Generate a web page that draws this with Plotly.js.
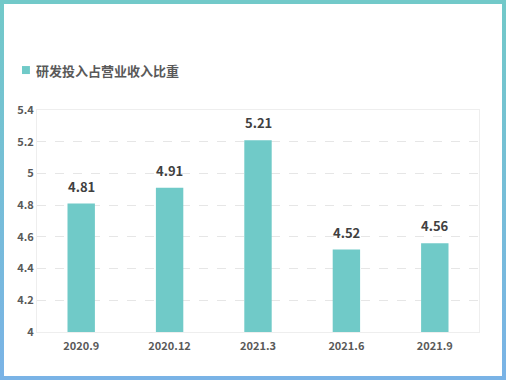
<!DOCTYPE html>
<html>
<head>
<meta charset="utf-8">
<script src="https://cdn.plot.ly/plotly-3.0.1.min.js"></script>
<style>
html,body{margin:0;padding:0;background:#fff;}
#wrap{position:relative;width:506px;height:380px;}
#chart{position:absolute;left:0;top:0;width:506px;height:380px;}
#frame{position:absolute;left:0;top:0;width:506px;height:380px;box-sizing:border-box;border:4px solid;border-image:linear-gradient(180deg,#72c9c9,#7ab3e6) 1;pointer-events:none;}
</style>
</head>
<body>
<div id="wrap"><div id="chart"></div><div id="frame"></div></div>
<script>
const categories = ['2020.9', '2020.12', '2021.3', '2021.6', '2021.9'];
const seriesName = '研发投入占营业收入比重';
const values = [4.81, 4.91, 5.21, 4.52, 4.56];
const yTicks = [4, 4.2, 4.4, 4.6, 4.8, 5, 5.2, 5.4];

const font = '"Noto Sans CJK SC", "Noto Sans", sans-serif';
const barColor = '#70cac8';

const trace = {
  type: 'bar',
  x: categories,
  y: values,
  name: seriesName,
  marker: {color: barColor},
  hoverinfo: 'x+y',
  showlegend: false
};

const valueLabels = categories.map((c, i) => ({
  x: i, y: values[i], xref: 'x', yref: 'y',
  text: values[i].toFixed(2), showarrow: false,
  yanchor: 'bottom', yshift: 6,
  font: {family: font, size: 13, color: '#404040', weight: 'bold'}
}));

const legendText = {
  x: -0.007, y: 1.18, xref: 'paper', yref: 'paper',
  xanchor: 'left', yanchor: 'middle', showarrow: false,
  text: seriesName,
  font: {family: font, size: 13, color: '#595959', weight: 'bold'}
};

const layout = {
  width: 506,
  height: 380,
  margin: {l: 37, r: 27, t: 110, b: 48},
  paper_bgcolor: '#ffffff',
  plot_bgcolor: '#ffffff',
  bargap: 0.69,
  showlegend: false,
  annotations: valueLabels.concat([legendText]),
  shapes: [{
    type: 'rect', xref: 'paper', yref: 'paper',
    x0: -0.034, x1: -0.016, y0: 1.162, y1: 1.198,
    fillcolor: barColor, line: {width: 0}
  }],
  xaxis: {
    type: 'category',
    categoryorder: 'array', categoryarray: categories,
    range: [-0.5, categories.length - 0.5],
    showline: true, linecolor: '#eeeeee', linewidth: 1, mirror: true,
    showgrid: false, ticks: '',
    tickfont: {family: font, size: 11, color: '#595959', weight: 'bold'},
    ticklabelstandoff: 4
  },
  yaxis: {
    range: [4, 5.4],
    tickvals: yTicks,
    ticktext: yTicks.map(v => String(v)),
    showline: true, linecolor: '#eeeeee', linewidth: 1, mirror: true,
    showgrid: true, gridcolor: '#e6e6e6', griddash: 'dash', gridwidth: 1,
    zeroline: false, ticks: '',
    tickfont: {family: font, size: 11, color: '#595959', weight: 'bold'}
  }
};

Plotly.newPlot('chart', [trace], layout, {displayModeBar: false, staticPlot: true});
</script>
</body>
</html>
